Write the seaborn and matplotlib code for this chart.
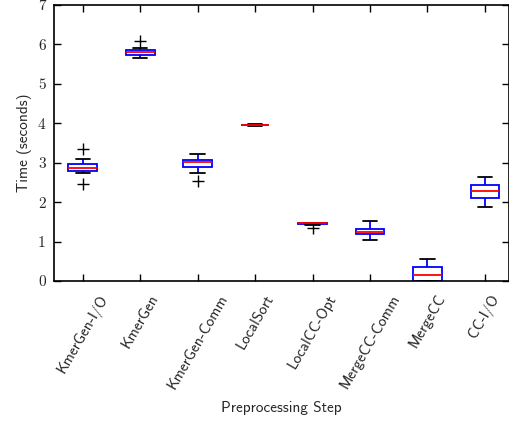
import numpy as np
import pandas as pd
import matplotlib
matplotlib.use("Agg")
import matplotlib.pyplot as plt
import seaborn as sns

steps = ["KmerGen-I/O", "KmerGen", "KmerGen-Comm", "LocalSort",
         "LocalCC-Opt", "MergeCC-Comm", "MergeCC", "CC-I/O"]

kmergen_io = [2.47, 2.75, 2.80, 2.84, 2.87, 2.92, 2.97, 3.10, 3.36]
kmergen = [5.66, 5.70, 5.72, 5.76, 5.80, 5.83, 5.86, 5.92, 6.09]
kmergen_comm = [2.53, 2.75, 2.89, 2.97, 3.03, 3.05, 3.07, 3.15, 3.21]
localsort = [3.93, 3.94, 3.945, 3.95, 3.95, 3.955, 3.96, 3.965, 3.97]
localcc_opt = [1.34, 1.42, 1.445, 1.45, 1.46, 1.465, 1.47, 1.475, 1.48]
mergecc_comm = [1.04, 1.12, 1.19, 1.22, 1.25, 1.28, 1.32, 1.42, 1.51]
mergecc = [0.0, 0.0, 0.0, 0.08, 0.16, 0.25, 0.35, 0.45, 0.56]
cc_io = [1.88, 2.00, 2.10, 2.20, 2.28, 2.35, 2.44, 2.55, 2.63]

series = [kmergen_io, kmergen, kmergen_comm, localsort,
          localcc_opt, mergecc_comm, mergecc, cc_io]
yticks = [0, 1, 2, 3, 4, 5, 6, 7]

rows = []
for s, vals in zip(steps, series):
    for v in vals:
        rows.append({"step": s, "time": v})
df = pd.DataFrame(rows)

sns.set_style("ticks")
plt.rcParams["axes.formatter.use_mathtext"] = True

fig = plt.figure(figsize=(5.10, 4.23), dpi=100)
ax = fig.add_axes([54 / 510, 1 - 281 / 423, (509 - 54) / 510, (281 - 5) / 423])

sns.boxplot(data=df, x="step", y="time", order=steps, ax=ax, width=0.5,
            color="white", linecolor="blue", linewidth=1.3,
            boxprops=dict(facecolor="white", edgecolor="blue"),
            medianprops=dict(color="red", linewidth=1.3),
            whiskerprops=dict(color="blue", linewidth=1.3),
            capprops=dict(color="black", linewidth=1.3),
            flierprops=dict(marker="+", markeredgecolor="black",
                            markerfacecolor="black", markersize=8,
                            markeredgewidth=1.0))

ax.set_xlim(-0.5, 7.42)
ax.set_ylim(0, 7)
ax.set_yticks(yticks)
ax.set_yticklabels([str(t) for t in yticks], fontfamily="cmr10", fontsize=11)
ax.set_xticks(range(len(steps)))
ax.set_xticklabels(steps, rotation=60, ha="center", fontfamily="cmss10", fontsize=11)
ax.tick_params(axis="both", direction="in", top=True, right=True, length=5,
               width=1.0, color="black")
ax.tick_params(axis="x", pad=8)
ax.tick_params(axis="y", pad=6)
for sp in ax.spines.values():
    sp.set_visible(True)
    sp.set_color("black")
    sp.set_linewidth(1.2)

ax.set_xlabel("Preprocessing Step", fontfamily="cmss10", fontsize=11, labelpad=7)
ax.set_ylabel("Time (seconds)", fontfamily="cmss10", fontsize=11, labelpad=4)

fig.savefig("out.png", dpi=100)
